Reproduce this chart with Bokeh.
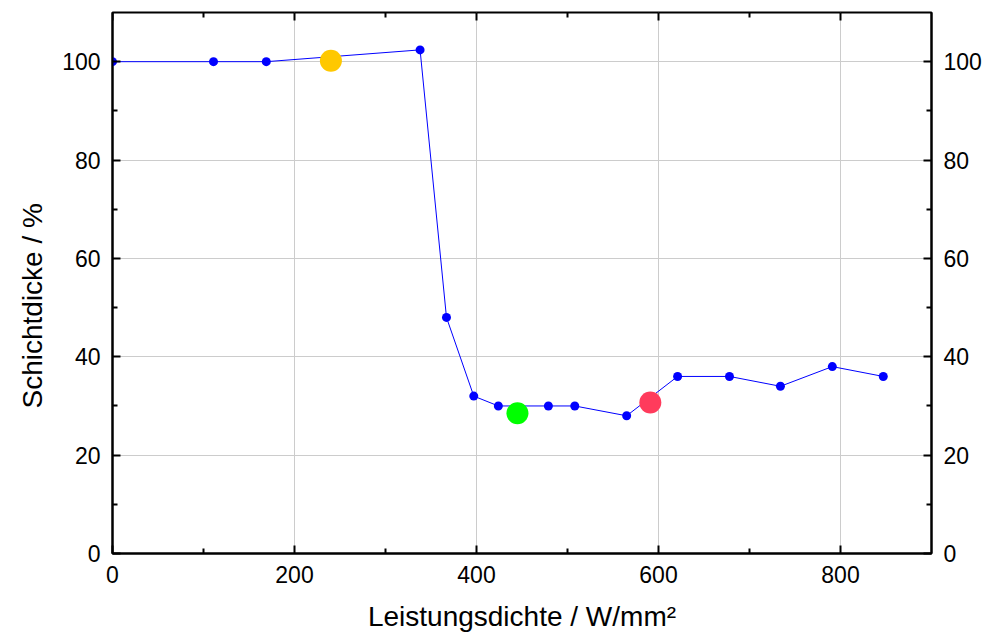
from bokeh.plotting import figure
from bokeh.models import LinearAxis, FixedTicker, Range1d, Title
from bokeh.embed import file_html
from bokeh.resources import INLINE

# Layer thickness vs. power density
leistungsdichte = [0, 111, 169, 338, 367, 397, 424, 479, 508, 565, 621, 678, 734, 791, 847]
schichtdicke = [100, 100, 100, 102.4, 48, 32, 30, 30, 30, 28, 36, 36, 34, 38, 36]

# Highlighted samples
mark_x = [240, 445, 591]
mark_y = [100.2, 28.5, 30.7]
mark_colors = ["#FFC800", "#00FF00", "#FF3B5C"]

x_ticks = [0, 200, 400, 600, 800]
x_minor = [100, 300, 500, 700]
y_ticks = [0, 20, 40, 60, 80, 100]
y_minor = [10, 30, 50, 70, 90]
X_MAX, Y_MAX = 900, 110

FONT = "Liberation Sans"

p = figure(width=985, height=642, output_backend="svg", toolbar_location=None,
           x_range=Range1d(0, X_MAX), y_range=Range1d(0, Y_MAX),
           min_border_left=112, min_border_right=54, min_border_top=12,
           min_border_bottom=89, x_axis_location=None, y_axis_location=None)
p.outline_line_color = "black"
p.outline_line_width = 2

p.xgrid.ticker = FixedTicker(ticks=x_ticks)
p.ygrid.ticker = FixedTicker(ticks=y_ticks)
for g in (p.xgrid, p.ygrid):
    g.grid_line_color = "#cccccc"
    g.grid_line_width = 1


def style(ax):
    ax.axis_line_color = "black"
    ax.axis_line_width = 2
    ax.major_tick_in = 8
    ax.major_tick_out = 0
    ax.minor_tick_in = 5
    ax.minor_tick_out = 0
    ax.major_tick_line_width = 2
    ax.minor_tick_line_width = 2
    ax.major_label_text_font = FONT
    ax.major_label_text_font_size = "23px"
    ax.major_label_text_color = "black"
    ax.axis_label_text_font = FONT
    ax.axis_label_text_font_size = "28px"
    ax.axis_label_text_font_style = "normal"
    ax.axis_label_text_color = "black"


xb = LinearAxis(axis_label="Leistungsdichte / W/mm²")
xb.ticker = FixedTicker(ticks=x_ticks, minor_ticks=x_minor)
style(xb)
xb.major_label_standoff = 12
xb.axis_label_standoff = 15
p.add_layout(xb, "below")

yl = LinearAxis()
yl.ticker = FixedTicker(ticks=y_ticks, minor_ticks=y_minor)
style(yl)
yl.major_label_standoff = 12
p.add_layout(yl, "left")

yr = LinearAxis()
yr.ticker = FixedTicker(ticks=y_ticks, minor_ticks=y_minor)
style(yr)
yr.major_label_standoff = 12
p.add_layout(yr, "right")

# y-axis title, starting a little above the frame's bottom edge
p.add_layout(Title(text="Schichtdicke / %", align="left", offset=145,
                   standoff=24, text_font=FONT, text_font_size="28px",
                   text_font_style="normal", text_color="black"), "left")

# tick marks along the top edge (no labels); the frame clips the outer half
p.scatter(x_ticks, [Y_MAX] * len(x_ticks), marker="dash", angle=1.5707963,
          size=16, line_color="black", line_width=2)
p.scatter(x_minor, [Y_MAX] * len(x_minor), marker="dash", angle=1.5707963,
          size=10, line_color="black", line_width=2)

p.line(leistungsdichte, schichtdicke, line_color="#0000FF", line_width=1)
p.scatter(leistungsdichte, schichtdicke, size=9, fill_color="#0000FF", line_color=None)
p.scatter(mark_x, mark_y, size=22, fill_color=mark_colors, line_color=None)

open("out.html", "w").write(file_html(p, INLINE))
